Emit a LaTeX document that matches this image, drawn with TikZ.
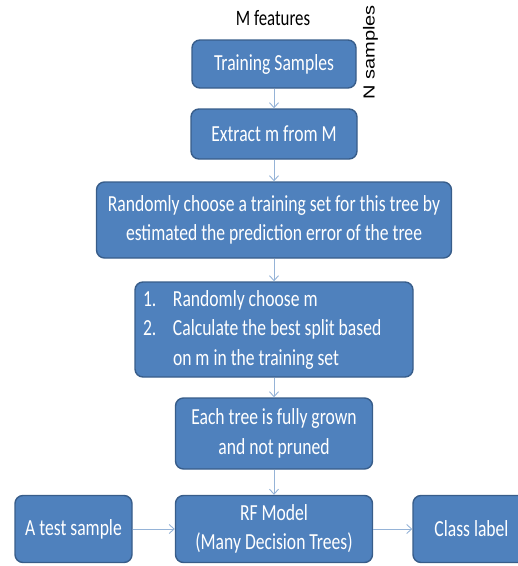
\documentclass[tikz,border=0pt]{standalone}
\usepackage{fontspec}
\usepackage{graphicx}
\newfontfamily\calibri{Carlito}[FakeStretch=0.765]
\newfontfamily\arialfont{Liberation Sans}
\usetikzlibrary{arrows.meta}
\definecolor{boxfill}{RGB}{79,129,189}
\definecolor{boxedge}{RGB}{56,93,138}
\definecolor{flowblue}{RGB}{149,179,215}
\tikzset{
  stepbox/.style={rectangle, rounded corners=8pt, draw=boxedge, fill=boxfill,
    line width=1.4pt, text=white, align=center, inner sep=0pt,
    font=\calibri\fontsize{23}{29.5}\selectfont},
  flow/.style={draw=flowblue, line width=0.9pt, -{Straight Barb[length=5pt,width=9pt]}},
}
\begin{document}
\begin{tikzpicture}[x=1pt, y=-1pt]
  \useasboundingbox (0,0) rectangle (518,566);

  % main column
  \node[stepbox, minimum width=164pt, minimum height=48pt] (train) at (274,64) {Training Samples};
  \node[stepbox, minimum width=166pt, minimum height=50pt] (extract) at (274,134) {Extract m from M};
  \node[stepbox, minimum width=355pt, minimum height=76pt] (choose) at (274,220)
    {Randomly choose a training set for this tree by\\estimated the prediction error of the tree};
  \node[stepbox, align=flush left, inner xsep=8pt, text width=262pt, minimum height=95pt] (split) at (274,329.5)
    {\makebox[30pt][l]{1.}Randomly choose m\\
     \makebox[30pt][l]{2.}Calculate the best split based\\
     \hspace*{30pt}on m in the training set};
  \node[stepbox, minimum width=197pt, minimum height=71pt] (grow) at (274,433.5)
    {Each tree is fully grown\\and not pruned};
  \node[stepbox, minimum width=197pt, minimum height=67pt] (rf) at (274,529)
    {RF Model\\(Many Decision Trees)};

  % bottom row
  \node[stepbox, minimum width=117pt, minimum height=67pt] (test) at (73.5,529) {A test sample};
  \node[stepbox, minimum width=117pt, minimum height=67pt] (label) at (471.5,529) {Class label};

  % labels round the first box
  \node[font=\calibri\fontsize{22}{26}\selectfont] (feat) at (273,18) {M features};
  \node[rotate=90, font=\arialfont\fontsize{20}{24}\selectfont] (nsamp) at (370.5,52.5)
    {\scalebox{1}[0.8]{N samples}};

  % connectors
  \draw[flow] (train) -- (extract);
  \draw[flow] (extract) -- (choose);
  \draw[flow] (choose) -- (split);
  \draw[flow] (split) -- (grow);
  \draw[flow] (grow) -- (rf);
  \draw[flow] (test) -- (rf);
  \draw[flow] (rf) -- (label);
\end{tikzpicture}
\end{document}
